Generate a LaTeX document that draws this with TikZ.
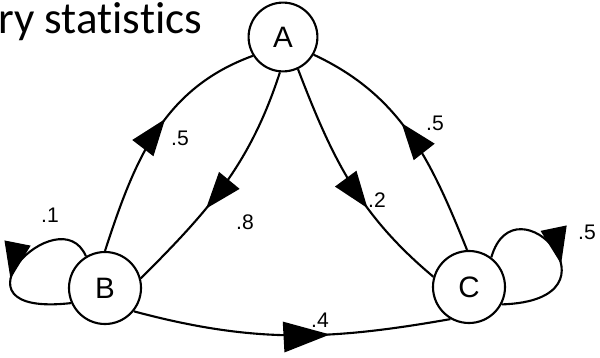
\documentclass[tikz,border=0pt]{standalone}
\usepackage{fontspec}
\setmainfont{Liberation Sans}
\newfontfamily\titlefont[Ligatures=NoCommon]{Carlito}
\usetikzlibrary{decorations.markings}
\newcommand{\headlen}{26pt}
\newcommand{\headhalf}{9.5pt}
\tikzset{
  % State: circle, one capital letter inside
  statenode/.style={draw, circle, minimum size=1.8cm, inner sep=0pt,
                    line width=1.5pt, font=\fontsize{21}{21}\selectfont},
  % Transition: line with a filled triangular head part way along
  trans/.style={line width=1.5pt, postaction={decorate},
                decoration={markings, mark=at position #1 with
                  {\fill (0pt,0pt) -- (-\headlen,\headhalf) -- (-\headlen,-\headhalf) -- cycle;}}},
  trans/.default=0.5,
  bighead/.code={\renewcommand{\headlen}{33pt}\renewcommand{\headhalf}{11pt}},
  % Transition probability
  prob/.style={font=\fontsize{15}{15}\selectfont, inner sep=1pt},
  % Cut-off slide title
  figtitle/.style={font=\titlefont\fontsize{32}{32}\selectfont, anchor=base west, inner sep=0pt}
}
\begin{document}
\begin{tikzpicture}[x=0.025cm, y=0.025cm]
\useasboundingbox (0,0) rectangle (600,357);

% ============== Title (cut at the left edge) ==============
\node[figtitle] (title) at (-2,324) {ry statistics};

% ============== States ==============
\node[statenode, minimum size=1.72cm] (A) at (283,320) {A};
\node[statenode] (B) at (105,69) {B};
\node[statenode] (C) at (469,70) {C};

% ============== Transitions between states ==============
\draw[trans=0.57] (B.90) to[out=72, in=200] (A.212);
\draw[trans=0.62] (A.265) to[out=252, in=45] (B.15);
\draw[trans=0.62] (A.295) to[out=291, in=140] (C.164);
\draw[trans=0.56] (C.93) to[out=112, in=335] (A.330);
\draw[trans=0.62, bighead] (B.321) to[out=345, in=190] (C.240);

% ============== Self loops ==============
\draw[trans=0.57] (B.121) .. controls +(-26,61) and +(-133,-15) .. (B.204);
\draw[trans=0.55] (C.53) .. controls +(24,83) and +(129,4) .. (C.332);

% ============== Probabilities ==============
\node[prob] (pBA) at (180,219) {.5};
\node[prob] (pAB) at (245,135) {.8};
\node[prob] (pAC) at (377,157) {.2};
\node[prob] (pCA) at (435,234) {.5};
\node[prob] (pBC) at (320,37) {.4};
\node[prob] (pBB) at (50,142) {.1};
\node[prob] (pCC) at (587,125) {.5};

\end{tikzpicture}
\end{document}
